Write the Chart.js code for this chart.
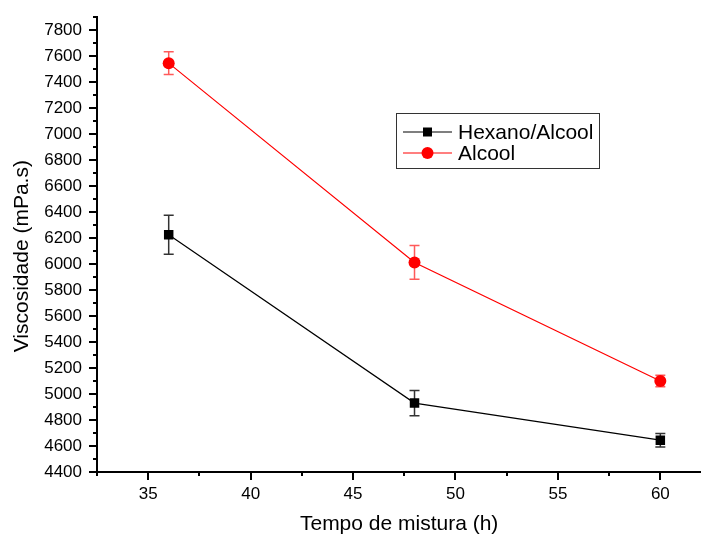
<!DOCTYPE html>
<html lang="pt">
<head>
  <meta charset="UTF-8" />
  <title>Viscosidade x Tempo de mistura</title>
  <script src="https://cdn.jsdelivr.net/npm/chart.js"></script>
  <style>
    html, body { margin: 0; padding: 0; background: #fff; overflow: hidden; }
    #wrap { width: 701px; height: 538px; overflow: hidden; }
  </style>
</head>
<body>
  <div id="wrap"><canvas id="viscChart" width="708" height="538"></canvas></div>

  <script>
    // dados
    const tempos = [36, 48, 60];
    const hexanoAlcool = [6225, 4930, 4645];
    const hexanoAlcoolErro = [150, 97, 52];
    const alcool = [7545, 6012, 5100];
    const alcoolErro = [87, 130, 45];
    const nomesSeries = ['Hexano/Alcool', 'Alcool'];

    const fonte = '"Liberation Sans", Arial, sans-serif';

    function pontos(ys) {
      return tempos.map((t, i) => ({ x: t, y: ys[i] }));
    }

    // barras de erro desenhadas pelas escalas do gráfico
    const barrasErro = {
      id: 'barrasErro',
      beforeDatasetsDraw(chart) {
        const ctx = chart.ctx;
        const sx = chart.scales.x, sy = chart.scales.y;
        const erros = [hexanoAlcoolErro, alcoolErro];
        const cores = ['#333333', '#ff5a5a'];
        chart.data.datasets.forEach((ds, d) => {
          ctx.save();
          ctx.strokeStyle = cores[d];
          ctx.lineWidth = 1.5;
          ds.data.forEach((p, i) => {
            const x = sx.getPixelForValue(p.x);
            const y1 = sy.getPixelForValue(p.y + erros[d][i]);
            const y2 = sy.getPixelForValue(p.y - erros[d][i]);
            ctx.beginPath();
            ctx.moveTo(x, y1); ctx.lineTo(x, y2);
            ctx.moveTo(x - 5, y1); ctx.lineTo(x + 5, y1);
            ctx.moveTo(x - 5, y2); ctx.lineTo(x + 5, y2);
            ctx.stroke();
          });
          ctx.restore();
        });
      }
    };

    // marcas maiores e menores nos eixos + legenda
    const marcasEixos = {
      id: 'marcasEixos',
      afterDraw(chart) {
        const ctx = chart.ctx;
        const sx = chart.scales.x, sy = chart.scales.y;
        ctx.save();
        ctx.strokeStyle = '#000';
        ctx.lineWidth = 2;
        ctx.beginPath();
        sy.ticks.forEach(t => {
          if (Math.abs(t.value / 100 - Math.round(t.value / 100)) > 1e-6) return;
          const y = Math.round(sy.getPixelForValue(t.value));
          const len = t.value % 200 === 0 ? 8 : 4;
          ctx.moveTo(sy.right, y); ctx.lineTo(sy.right - len, y);
        });
        sx.ticks.forEach(t => {
          if (Math.abs(t.value / 2.5 - Math.round(t.value / 2.5)) > 1e-6) return;
          const x = Math.round(sx.getPixelForValue(t.value));
          const len = t.value % 5 === 0 ? 8 : 4;
          ctx.moveTo(x, sx.top); ctx.lineTo(x, sx.top + len);
        });
        ctx.stroke();

        const bx = 396, by = 113, bw = 203, bh = 55;
        ctx.lineWidth = 1;
        ctx.strokeStyle = '#333';
        ctx.strokeRect(bx + 0.5, by + 0.5, bw, bh);
        ctx.font = '21px ' + fonte;
        ctx.textBaseline = 'middle';
        chart.data.datasets.forEach((ds, i) => {
          const y = by + 19 + i * 21;
          ctx.strokeStyle = ds.borderColor;
          ctx.lineWidth = 1.2;
          ctx.beginPath();
          ctx.moveTo(bx + 7, y); ctx.lineTo(bx + 56, y);
          ctx.stroke();
          ctx.fillStyle = ds.backgroundColor;
          ctx.beginPath();
          if (ds.pointStyle === 'rect') ctx.rect(bx + 27, y - 4.5, 9, 9);
          else ctx.arc(bx + 31.5, y, 6, 0, Math.PI * 2);
          ctx.fill();
          ctx.fillStyle = '#000';
          ctx.fillText(ds.label, bx + 62, y + 1);
        });
        ctx.restore();
      }
    };

    new Chart(document.getElementById('viscChart'), {
      type: 'scatter',
      data: {
        datasets: [
          {
            label: nomesSeries[0],
            data: pontos(hexanoAlcool),
            showLine: true,
            borderColor: '#000000',
            backgroundColor: '#000000',
            borderWidth: 1.2,
            pointStyle: 'rect',
            pointRadius: 6.7,
            pointBorderWidth: 0
          },
          {
            label: nomesSeries[1],
            data: pontos(alcool),
            showLine: true,
            borderColor: '#ff0000',
            backgroundColor: '#ff0000',
            borderWidth: 1.2,
            pointStyle: 'circle',
            pointRadius: 6,
            pointBorderWidth: 0
          }
        ]
      },
      options: {
        responsive: false,
        animation: false,
        layout: { padding: { top: 17, left: 0, right: 0, bottom: 0 } },
        plugins: {
          legend: { display: false },
          tooltip: { enabled: false }
        },
        scales: {
          x: {
            type: 'linear',
            min: 32.5,
            max: 62,
            afterFit(scale) {
              scale.height = 66;
              scale.paddingLeft = 0;
              scale.paddingRight = 0;
            },
            grid: { display: false, drawTicks: false },
            border: { display: true, color: '#000', width: 2 },
            ticks: {
              stepSize: 2.5,
              padding: 12,
              color: '#000',
              font: { family: fonte, size: 17 },
              maxRotation: 0,
              autoSkip: false,
              callback: v => (v % 5 === 0 ? v : '')
            },
            title: {
              display: true,
              text: 'Tempo de mistura (h)',
              color: '#000',
              font: { family: fonte, size: 21 },
              padding: { top: 0, bottom: 1 }
            }
          },
          y: {
            min: 4400,
            max: 7900,
            afterFit(scale) {
              scale.width = 97;
              scale.paddingTop = 0;
              scale.paddingBottom = 0;
            },
            grid: { display: false, drawTicks: false },
            border: { display: true, color: '#000', width: 2 },
            ticks: {
              stepSize: 100,
              padding: 15,
              color: '#000',
              font: { family: fonte, size: 17 },
              autoSkip: false,
              callback: v => (v % 200 === 0 ? v : '')
            },
            title: {
              display: true,
              // espaços no fim para descer o título como no original
              text: 'Viscosidade (mPa.s)\u00a0\u00a0\u00a0\u00a0',
              color: '#000',
              font: { family: fonte, size: 21 },
              padding: { top: 10, bottom: 0 }
            }
          }
        }
      },
      plugins: [barrasErro, marcasEixos]
    });
  </script>
</body>
</html>
